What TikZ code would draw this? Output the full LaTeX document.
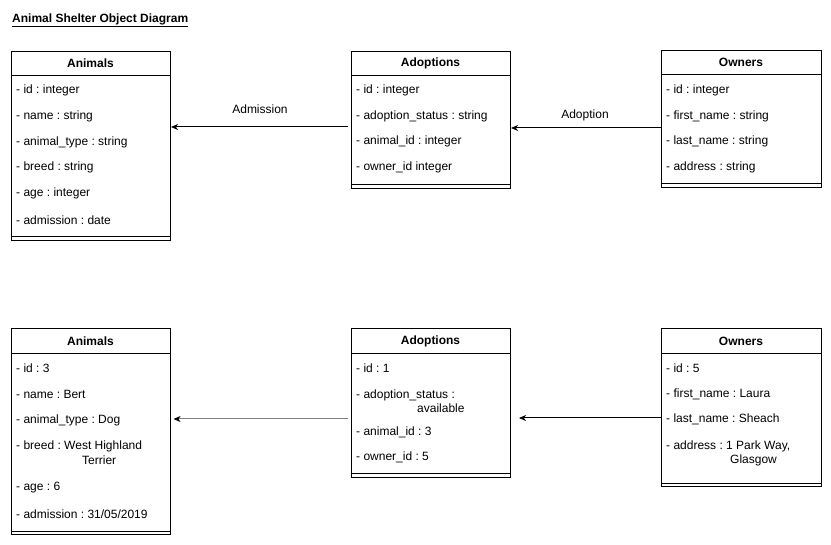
\documentclass[tikz,border=0pt]{standalone}
\usepackage{fontspec}
\setmainfont{Liberation Sans}
\usetikzlibrary{arrows.meta}
\frenchspacing
\begin{document}
\begin{tikzpicture}[x=1pt,y=-1pt,
  every node/.style={font=\fontsize{12}{14}\selectfont},
  box/.style={draw, line width=1pt, anchor=north west, inner sep=0pt, fill=white},
  hdr/.style={font=\fontsize{12}{14}\selectfont\bfseries, inner sep=0pt},
  fld/.style={anchor=west, inner sep=0pt},
  lbl/.style={inner sep=0pt},
  arr/.style={-{Stealth[length=7pt,width=6pt,inset=2pt]}, line width=1pt},
  grayarr/.style={-{Stealth[length=7pt,width=6pt,inset=2pt,color=black]}, line width=1pt, draw=black!50},
  sep/.style={line width=1pt}]
\useasboundingbox (0,0) rectangle (831,545);

% title
\node[hdr, anchor=west] (title) at (12,20) {\underline{Animal Shelter Object Diagram}};

% ---------- top row ----------
\node[box, minimum width=159pt, minimum height=189pt] (anim1) at (11,51) {};
\draw[sep] ([yshift=-25pt]anim1.north west) -- ([yshift=-25pt]anim1.north east);
\draw[sep] ([yshift=4pt]anim1.south west) -- ([yshift=4pt]anim1.south east);
\node[hdr] (anim1h) at (90.5,63.5) {Animals};
\node[fld] (anim1a) at (16,90) {- id : integer};
\node[fld] (anim1b) at (16,116) {- name : string};
\node[fld] (anim1c) at (16,142) {- animal\_type : string};
\node[fld] (anim1d) at (16,167) {- breed : string};
\node[fld] (anim1e) at (16,193) {- age : integer};
\node[fld] (anim1f) at (16,220) {- admission : date};

\node[box, minimum width=159pt, minimum height=137pt] (adop1) at (351,51) {};
\draw[sep] ([yshift=-25pt]adop1.north west) -- ([yshift=-25pt]adop1.north east);
\draw[sep] ([yshift=4pt]adop1.south west) -- ([yshift=4pt]adop1.south east);
\node[hdr] (adop1h) at (430.5,63.5) {Adoptions};
\node[fld] (adop1a) at (356,90) {- id : integer};
\node[fld] (adop1b) at (356,116) {- adoption\_status : string};
\node[fld] (adop1c) at (356,141) {- animal\_id : integer};
\node[fld] (adop1d) at (356,167) {- owner\_id integer};

\node[box, minimum width=160pt, minimum height=137pt] (own1) at (661,50) {};
\draw[sep] ([yshift=-25pt]own1.north west) -- ([yshift=-25pt]own1.north east);
\draw[sep] ([yshift=4pt]own1.south west) -- ([yshift=4pt]own1.south east);
\node[hdr] (own1h) at (741,62.5) {Owners};
\node[fld] (own1a) at (666,90) {- id : integer};
\node[fld] (own1b) at (666,116) {- first\_name : string};
\node[fld] (own1c) at (666,141) {- last\_name : string};
\node[fld] (own1d) at (666,167) {- address : string};

\coordinate (ya) at (0,127);
\coordinate (yb) at (0,128);
\draw[arr] ([xshift=-3pt]adop1.west |- ya) -- (anim1.east |- ya);
\node[lbl] (admlbl) at (260,109) {Admission};
\draw[arr] (own1.west |- yb) -- (adop1.east |- yb);
\node[lbl] (adolbl) at (585,115) {Adoption};

% ---------- bottom row ----------
\node[box, minimum width=159pt, minimum height=206pt] (anim2) at (11,328) {};
\draw[sep] ([yshift=-26pt]anim2.north west) -- ([yshift=-26pt]anim2.north east);
\draw[sep] ([yshift=3.5pt]anim2.south west) -- ([yshift=3.5pt]anim2.south east);
\node[hdr] (anim2h) at (90.5,341) {Animals};
\node[fld] (anim2a) at (16,368) {- id : 3};
\node[fld] (anim2b) at (16,394) {- name : Bert};
\node[fld] (anim2c) at (16,420) {- animal\_type : Dog};
\node[fld] (anim2d) at (16,446) {- breed : West Highland};
\node[fld] (anim2d2) at (82,460) {Terrier};
\node[fld] (anim2e) at (16,488) {- age : 6};
\node[fld] (anim2f) at (16,514) {- admission : 31/05/2019};

\node[box, minimum width=159pt, minimum height=149pt] (adop2) at (351,328) {};
\draw[sep] ([yshift=-26pt]adop2.north west) -- ([yshift=-26pt]adop2.north east);
\draw[sep] ([yshift=4pt]adop2.south west) -- ([yshift=4pt]adop2.south east);
\node[hdr] (adop2h) at (430.5,341) {Adoptions};
\node[fld] (adop2a) at (356,368) {- id : 1};
\node[fld] (adop2b) at (356,395) {- adoption\_status :};
\node[fld] (adop2b2) at (417,408) {available};
\node[fld] (adop2c) at (356,432) {- animal\_id : 3};
\node[fld] (adop2d) at (356,457) {- owner\_id : 5};

\node[box, minimum width=160pt, minimum height=158pt] (own2) at (661,328) {};
\draw[sep] ([yshift=-26pt]own2.north west) -- ([yshift=-26pt]own2.north east);
\draw[sep] ([yshift=3.5pt]own2.south west) -- ([yshift=3.5pt]own2.south east);
\node[hdr] (own2h) at (741,341) {Owners};
\node[fld] (own2a) at (666,368) {- id : 5};
\node[fld] (own2b) at (666,394) {- first\_name : Laura};
\node[fld] (own2c) at (666,419) {- last\_name : Sheach};
\node[fld] (own2d) at (666,446) {- address : 1 Park Way,};
\node[fld] (own2d2) at (730,460) {Glasgow};

\coordinate (yc) at (0,419);
\coordinate (yd) at (0,418);
\draw[grayarr] ([xshift=-3pt]adop2.west |- yc) -- ([xshift=2.5pt]anim2.east |- yc);
\draw[arr] (own2.west |- yd) -- ([xshift=8pt]adop2.east |- yd);
\end{tikzpicture}
\end{document}
